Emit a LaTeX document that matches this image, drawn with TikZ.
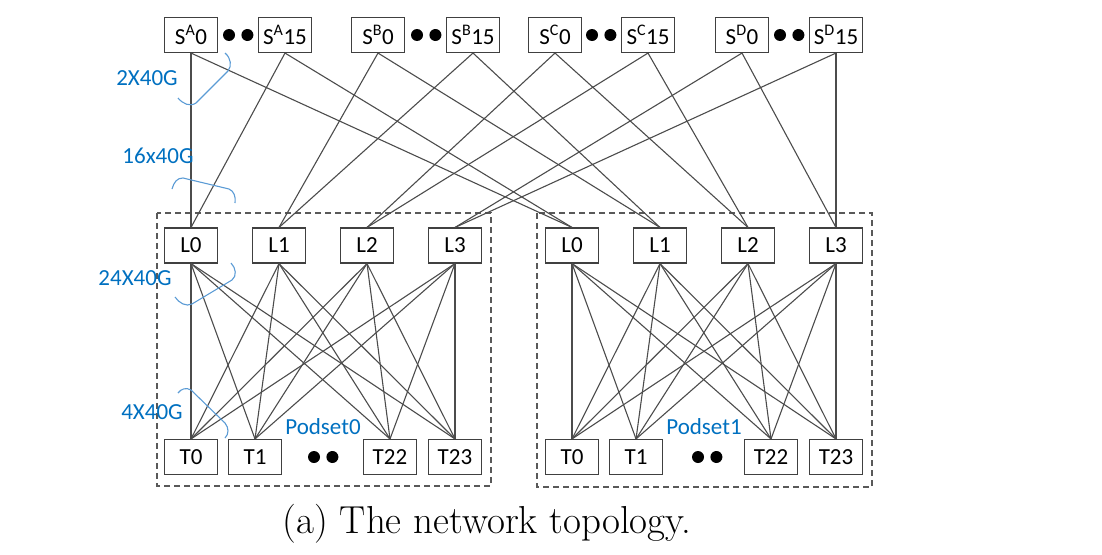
\documentclass[tikz,border=0pt]{standalone}
\usepackage{fontspec}
\newfontfamily\carlito{Carlito}
\usetikzlibrary{positioning}
\definecolor{labelblue}{RGB}{0,112,192}
\definecolor{braceblue}{RGB}{91,155,213}

\begin{document}
\begin{tikzpicture}[
    x=1pt, y=-1pt,
    font=\carlito\fontsize{23}{27}\selectfont,
    % --- styles ---
    % switch boxes
    swbox/.style={draw=black!75, line width=1.1pt, fill=white, minimum width=53pt, minimum height=35pt, inner sep=0pt},
    % links between switches
    link/.style={draw=black!70, line width=1.1pt},
    % filler dots
    fillerdot/.style={circle, fill=black, minimum size=12pt, inner sep=0pt},
    % podset frame
    podframe/.style={draw=black!65, dash pattern=on 6pt off 4pt, line width=1.2pt},
    % bandwidth labels and their braces
    bwlabel/.style={text=labelblue, inner sep=0pt},
    bwbrace/.style={draw=braceblue, line width=1.1pt}
]
\useasboundingbox (0,0) rectangle (1102,554);

% --- 1. Spine switches ---
\node[swbox] (SA0)  at (191,35) {S\textsuperscript{A}0};
\node[swbox] (SA15) at (285,35) {S\textsuperscript{A}15};
\node[swbox] (SB0)  at (378,35) {S\textsuperscript{B}0};
\node[swbox] (SB15) at (473,35) {S\textsuperscript{B}15};
\node[swbox] (SC0)  at (555,35) {S\textsuperscript{C}0};
\node[swbox] (SC15) at (648,35) {S\textsuperscript{C}15};
\node[swbox] (SD0)  at (742,35) {S\textsuperscript{D}0};
\node[swbox] (SD15) at (836,35) {S\textsuperscript{D}15};

% dots between the planes
\node[fillerdot] (dotA1) at (229,35) {};
\node[fillerdot, right=6pt of dotA1] (dotA2) {};
\node[fillerdot] (dotB1) at (417,35) {};
\node[fillerdot, right=6pt of dotB1] (dotB2) {};
\node[fillerdot] (dotC1) at (592,35) {};
\node[fillerdot, right=6pt of dotC1] (dotC2) {};
\node[fillerdot] (dotD1) at (780,35) {};
\node[fillerdot, right=6pt of dotD1] (dotD2) {};

% --- 2. Podsets ---
\draw[podframe] (157,213) rectangle (491,486);
\draw[podframe] (537,213) rectangle (872,487);

% Podset0
\node[swbox] (pod0-L0) at (191,245.5) {L0};
\node[swbox] (pod0-L1) at (279,245.5) {L1};
\node[swbox] (pod0-L2) at (367,245.5) {L2};
\node[swbox] (pod0-L3) at (455,245.5) {L3};
\node[swbox] (pod0-T0)  at (191,457) {T0};
\node[swbox] (pod0-T1)  at (255,457) {T1};
\node[swbox] (pod0-T22) at (390,457) {T22};
\node[swbox] (pod0-T23) at (455,457) {T23};
\node[fillerdot] (dot01) at (314,457) {};
\node[fillerdot, right=6pt of dot01] (dot02) {};

% Podset1
\node[swbox] (pod1-L0) at (572,245.5) {L0};
\node[swbox] (pod1-L1) at (660,245.5) {L1};
\node[swbox] (pod1-L2) at (748,245.5) {L2};
\node[swbox] (pod1-L3) at (836,245.5) {L3};
\node[swbox] (pod1-T0)  at (572,457) {T0};
\node[swbox] (pod1-T1)  at (636,457) {T1};
\node[swbox] (pod1-T22) at (771,457) {T22};
\node[swbox] (pod1-T23) at (836,457) {T23};
\node[fillerdot] (dot11) at (698,457) {};
\node[fillerdot, right=6pt of dot11] (dot12) {};

% --- 3. Links ---
% plane A/B/C/D -> leaf 0/1/2/3 of every podset
\foreach \s/\l in {A/0, B/1, C/2, D/3}
    \foreach \i in {0,15}
        \foreach \p in {0,1}
            \draw[link] (S\s\i.south) -- (pod\p-L\l.north);

% full mesh leaf -> ToR
\foreach \p in {0,1}
    \foreach \l in {0,...,3}
        \foreach \t in {0,1,22,23}
            \draw[link] (pod\p-L\l.south) -- (pod\p-T\t.north);

% --- 4. Bandwidth labels ---
\node[bwlabel] (bwSpine) at (147,78)  {2X40G};
\node[bwlabel] (bwUp)    at (158,156) {16x40G};
\node[bwlabel] (bwLeaf)  at (135,278) {24X40G};
\node[bwlabel] (bwTor)   at (152,412) {4X40G};

\draw[bwbrace] (225,53) .. controls (231,58) and (232,66) .. (228,71) -- (196,103) .. controls (190,107) and (183,104) .. (178,98);
\draw[bwbrace] (172,189) .. controls (174,182) and (177,178) .. (183,178) -- (229,189) .. controls (234,191) and (236,197) .. (235,203);
\draw[bwbrace] (231,263) .. controls (236,268) and (237,276) .. (232,280) -- (192,304) .. controls (186,307) and (179,303) .. (175,297);
\draw[bwbrace] (178,393) .. controls (181,389) and (186,387) .. (191,390) -- (225,423) .. controls (229,428) and (229,434) .. (225,438);

\node[bwlabel] (pod0-name) at (323,427) {Podset0};
\node[bwlabel] (pod1-name) at (704,427) {Podset1};

% --- 5. Caption ---
\node[font=\rmfamily\fontsize{39}{46}\selectfont] (Caption) at (487,524) {(a) The network topology.};

\end{tikzpicture}
\end{document}
